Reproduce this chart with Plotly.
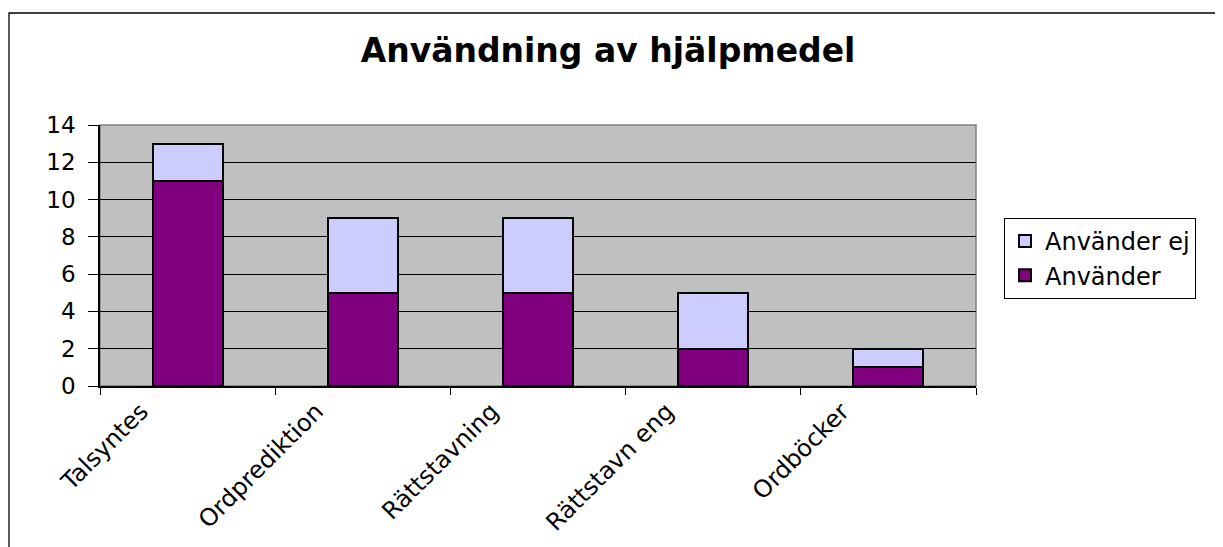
import plotly.graph_objects as go

categories = ["Talsyntes", "Ordprediktion", "Rättstavning", "Rättstavn eng", "Ordböcker"]
anvander = [11, 5, 5, 2, 1]
anvander_ej = [2, 4, 4, 3, 1]
y_ticks = [0, 2, 4, 6, 8, 10, 12, 14]

FONT = "DejaVu Sans, Liberation Sans, Arial, sans-serif"
BODY = 24
YSIZE = 23
W, H = 1223, 547
O = 8  # page body margin offset
# desired on-screen plot area: x 100..976, y 125..386
L, T = 100 - O, 125 - O
pw, ph = 876, 261
R, B = W - L - pw, H - T - ph

def px_x(sx):
    return (sx - O - L) / pw

def px_y(sy):
    return (T + ph - (sy - O)) / ph

xpos = list(range(len(categories)))
label_shift = -0.265  # category units, labels sit left of the bar centre

fig = go.Figure()
fig.add_trace(go.Bar(
    x=xpos, y=anvander, name="Använder",
    marker=dict(color="#800080", line=dict(color="black", width=2)),
))
fig.add_trace(go.Bar(
    x=xpos, y=anvander_ej, name="Använder ej",
    marker=dict(color="#CCCCFF", line=dict(color="black", width=2)),
))

# plot frame (grey) drawn beneath the grid
fig.add_shape(type="rect", xref="paper", yref="paper", x0=0, y0=0, x1=1, y1=1,
              line=dict(color="#808080", width=1.5), layer="below")
# outer chart border
fig.add_shape(type="rect", xref="paper", yref="paper",
              x0=px_x(9), x1=px_x(W + 30),
              y0=px_y(H + 30), y1=px_y(13),
              line=dict(color="black", width=1.3), layer="above")

fig.update_layout(
    width=W, height=H,
    margin=dict(l=L, r=R, t=T, b=B, autoexpand=False),
    paper_bgcolor="white", plot_bgcolor="#C0C0C0",
    barmode="stack", bargap=0.6,
    font=dict(family=FONT, size=BODY, color="black"),
    title=dict(text="<b>Användning av hjälpmedel</b>", font=dict(family=FONT, size=33, color="black"),
               x=(608 - O) / W, xref="container", xanchor="center",
               y=1 - (50 - O) / H, yref="container", yanchor="middle"),
    showlegend=True,
    legend=dict(traceorder="reversed", x=px_x(1004), xanchor="left",
                y=px_y(218), yanchor="top",
                bordercolor="black", borderwidth=1, bgcolor="white",
                font=dict(family=FONT, size=BODY, color="black"),
                itemwidth=30, tracegroupgap=0),
    xaxis=dict(
        range=[-0.5, len(categories) - 0.5],
        tickmode="array",
        tickvals=[p + label_shift for p in xpos],
        ticktext=categories,
        tickangle=-45, ticks="", ticklen=0,
        showgrid=False, zeroline=False,
        showline=True, linecolor="black", linewidth=1.5,
        tickfont=dict(family=FONT, size=BODY, color="black"),
        minor=dict(tickmode="linear", tick0=-0.5, dtick=1, ticks="outside",
                   ticklen=7, tickcolor="black", tickwidth=1, showgrid=False),
    ),
    yaxis=dict(
        range=[0, 14], tickmode="array", tickvals=y_ticks,
        ticks="outside", ticklen=10, tickcolor="black", tickwidth=1,
        showgrid=True, gridcolor="black", gridwidth=1,
        zeroline=False, showline=True, linecolor="black", linewidth=1.5,
        tickfont=dict(family=FONT, size=YSIZE, color="black"),
        ticklabelstandoff=8,
    ),
)

fig.write_html("out.html")
